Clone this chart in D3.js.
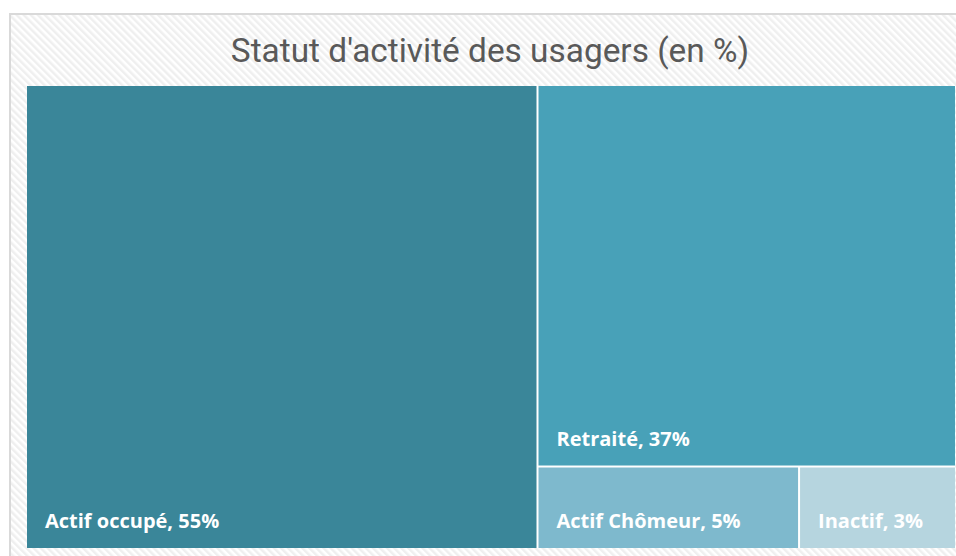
<!DOCTYPE html>
<html><head><meta charset="utf-8">
<script src="https://cdn.jsdelivr.net/npm/d3@7"></script>
<style>html,body{margin:0;padding:0;background:#fff;overflow:hidden}</style>
</head><body>
<svg id="chart" width="956" height="556"></svg>
<script>
const categories = ["Actif occupé", "Retraité", "Actif Chômeur", "Inactif"];
const values = [55, 37, 5, 3];
const colors = ["#3a8699", "#48a1b8", "#7eb9cd", "#b6d5df"];
const title = "Statut d'activité des usagers (en %)";

const svg = d3.select("#chart");
const defs = svg.append("defs");
const pat = defs.append("pattern").attr("id","hatch").attr("patternUnits","userSpaceOnUse")
  .attr("width",5).attr("height",5).attr("patternTransform","rotate(-45)");
pat.append("rect").attr("width",5).attr("height",5).attr("fill","#ffffff");
pat.append("rect").attr("width",2.5).attr("height",5).attr("fill","#efefef");

svg.append("rect").attr("x",10).attr("y",14).attr("width",1000).attr("height",600)
  .attr("fill","url(#hatch)").attr("stroke","#d9d9d9").attr("stroke-width",2);

svg.append("text").attr("x",490).attr("y",62).attr("text-anchor","middle")
  .attr("font-family","Roboto, 'Open Sans', sans-serif").attr("font-size",33.4)
  .attr("fill","#595959").text(title);

const data = {name:"root", children: categories.map((c,i)=>({name:c, value:values[i], color:colors[i]}))};
const root = d3.hierarchy(data).sum(d=>d.value||0).sort((a,b)=>b.value-a.value);
const x0 = 27, y0 = 86, W = 928, H = 462;
d3.treemap().tile(d3.treemapSquarify).size([W, H]).paddingInner(2).round(false)(root);

const g = svg.append("g").attr("transform",`translate(${x0},${y0})`);
g.append("rect").attr("width",W).attr("height",H).attr("fill","#ffffff");
const leaf = g.selectAll("g.leaf").data(root.leaves()).join("g").attr("class","leaf");
leaf.append("rect").attr("x",d=>d.x0).attr("y",d=>d.y0)
  .attr("width",d=>d.x1-d.x0).attr("height",d=>d.y1-d.y0).attr("fill",d=>d.data.color);
leaf.append("text").attr("x",d=>d.x0+18).attr("y",d=>d.y1-20)
  .attr("font-family","'Open Sans', sans-serif").attr("font-weight",700).attr("font-size",20)
  .attr("fill","#ffffff").text(d=>`${d.data.name}, ${d.data.value}%`);
</script>
</body></html>
